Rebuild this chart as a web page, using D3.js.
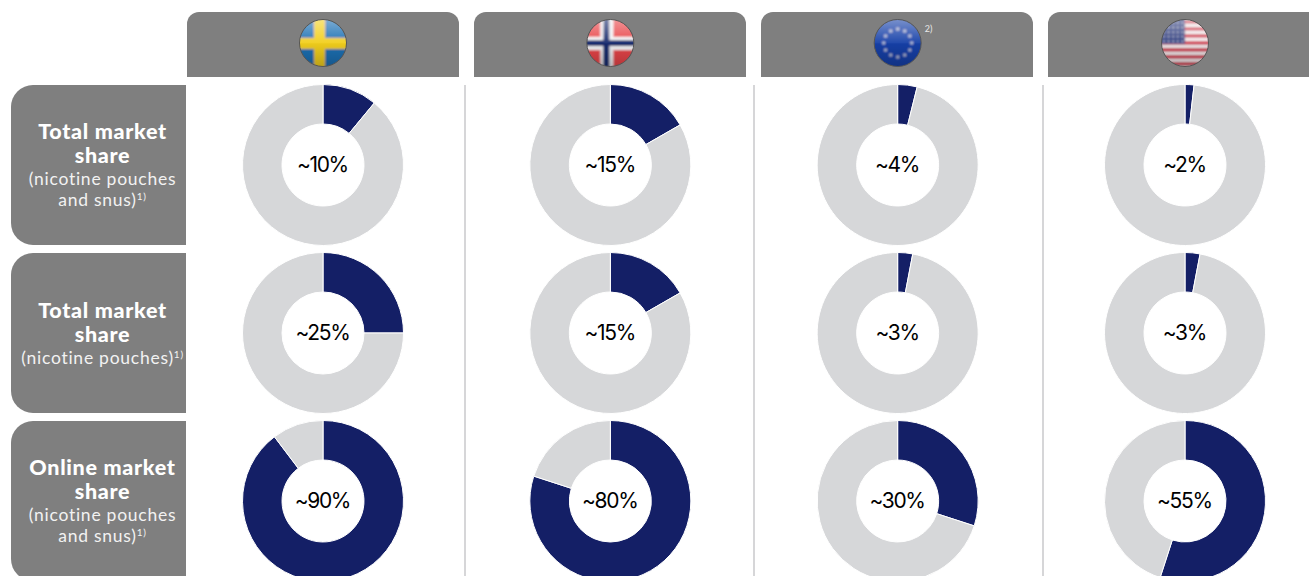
<!DOCTYPE html>
<html>
<head>
<meta charset="utf-8">
<script src="https://cdn.jsdelivr.net/npm/d3@7"></script>
<style>
  html, body { margin: 0; padding: 0; background: #fff; overflow: hidden; }
  text { font-family: Lato, sans-serif; }
  .title { font-weight: 900; font-size: 21.5px; fill: #fff; letter-spacing: .7px; }
  .sub { font-weight: 400; font-size: 17.5px; fill: #f2f2f2; letter-spacing: .75px; }
  .sup { font-size: 10px; }
  .value { font-family: Inter, sans-serif; font-size: 21px; fill: #000; letter-spacing: -1.35px; }
</style>
</head>
<body>
<div id="chart"></div>
<script>
const countries = ['Sweden', 'Norway', 'EU', 'USA'];
const metrics = ['totalAll', 'totalPouches', 'online'];

// share of the slice as drawn
const totalAllShare = [11, 16.7, 3.9, 1.8];
const totalPouchesShare = [25, 16.7, 3, 3];
const onlineShare = [89.7, 80, 30, 55];

const totalAllLabels = ['~10%', '~15%', '~4%', '~2%'];
const totalPouchesLabels = ['~25%', '~15%', '~3%', '~3%'];
const onlineLabels = ['~90%', '~80%', '~30%', '~55%'];

const rowTitles = [['Total market', 'share'], ['Total market', 'share'], ['Online market', 'share']];
const rowSubs = [['(nicotine pouches', 'and snus)'], ['(nicotine pouches)'], ['(nicotine pouches', 'and snus)']];

const shares = [totalAllShare, totalPouchesShare, onlineShare];
const labels = [totalAllLabels, totalPouchesLabels, onlineLabels];

const w = 1309, h = 576;
const NAVY = '#141f66', LIGHT = '#d6d7d9', PANEL = '#7f7f7f';

const svg = d3.select('#chart').append('svg')
  .attr('width', w).attr('height', h)
  .style('display', 'block');
const defs = svg.append('defs');

const x = d3.scalePoint().domain(countries).range([323, 1185]);
const y = d3.scalePoint().domain(metrics).range([165, 501]);
const headerX = d3.scalePoint().domain(countries).range([187, 1048]);
const sepX = d3.scalePoint().domain(countries.slice(1)).range([465, 1043]);
const pie = d3.pie().sort(null).value(function(d) { return d; });
const arc = d3.arc().innerRadius(41).outerRadius(80.5);

// header tabs, rounded on top only
countries.forEach(function(c) {
  const x0 = headerX(c), x1 = x0 + 272, r = 12;
  svg.append('path')
    .attr('d', `M${x0},77V${12 + r}A${r},${r} 0 0 1 ${x0 + r},12H${x1 - r}A${r},${r} 0 0 1 ${x1},${12 + r}V77Z`)
    .attr('fill', PANEL);
});

// column separators
svg.selectAll('.sep').data(countries.slice(1)).enter().append('line')
  .attr('class', 'sep')
  .attr('x1', function(c) { return sepX(c); })
  .attr('x2', function(c) { return sepX(c); })
  .attr('y1', 85).attr('y2', h)
  .attr('stroke', '#c8c9cb').attr('stroke-width', 1.5);

// row panels, rounded on the left only
metrics.forEach(function(m, i) {
  const y0 = y(m) - 80, y1 = y(m) + 80, r = 22;
  svg.append('path')
    .attr('d', `M186,${y0}H${11 + r}A${r},${r} 0 0 0 11,${y0 + r}V${y1 - r}A${r},${r} 0 0 0 ${11 + r},${y1}H186Z`)
    .attr('fill', PANEL);

  const g = svg.append('g').attr('text-anchor', 'middle');
  // the row with one sub line sits lower in its panel
  const top = y(m) - (rowSubs[i].length === 2 ? 26 : 15);
  rowTitles[i].forEach(function(t, j) {
    g.append('text').attr('class', 'title')
      .attr('x', 102.5).attr('y', top + j * 24).text(t);
  });
  rowSubs[i].forEach(function(t, j) {
    const last = j === rowSubs[i].length - 1;
    const line = g.append('text').attr('class', 'sub')
      .attr('x', 102.5).attr('y', top + 46 + j * 21).text(t);
    if (last) {
      line.append('tspan').attr('class', 'sup').attr('dy', -6).text('1)');
    }
  });
});

// donuts
metrics.forEach(function(m, i) {
  countries.forEach(function(c, j) {
    const g = svg.append('g').attr('transform', `translate(${x(c)},${y(m)})`);
    const v = shares[i][j];
    g.selectAll('path').data(pie([v, 100 - v])).enter().append('path')
      .attr('d', arc)
      .attr('fill', function(d, k) { return k === 0 ? NAVY : LIGHT; })
      .attr('stroke', '#fff').attr('stroke-width', 1);
    g.append('text').attr('class', 'value')
      .attr('text-anchor', 'middle').attr('x', -.6).attr('y', 7)
      .text(labels[i][j]);
  });
});

// flags
const gloss = defs.append('linearGradient').attr('id', 'gloss')
  .attr('x1', 0).attr('y1', 0).attr('x2', 0).attr('y2', 1);
gloss.append('stop').attr('offset', 0).attr('stop-color', '#fff').attr('stop-opacity', .42);
gloss.append('stop').attr('offset', .5).attr('stop-color', '#fff').attr('stop-opacity', .05);
gloss.append('stop').attr('offset', .52).attr('stop-color', '#000').attr('stop-opacity', .03);
gloss.append('stop').attr('offset', 1).attr('stop-color', '#000').attr('stop-opacity', .22);

defs.append('filter').attr('id', 'soft')
  .append('feGaussianBlur').attr('stdDeviation', .9);

const flagR = 23.5;
function bar(g, bx, by, bw, bh, fill) {
  g.append('rect').attr('x', bx).attr('y', by).attr('width', bw).attr('height', bh).attr('fill', fill);
}
const flagDraw = {
  Sweden: function(g) {
    bar(g, -26, -26, 52, 52, '#1f6fb4');
    bar(g, -9, -26, 11, 52, '#f2cf1d');
    bar(g, -26, -5, 52, 11, '#f2cf1d');
  },
  Norway: function(g) {
    bar(g, -26, -26, 52, 52, '#e8444a');
    bar(g, -10, -26, 13, 52, '#f4f4f6');
    bar(g, -26, -6, 52, 13, '#f4f4f6');
    bar(g, -7, -26, 6, 52, '#16296e');
    bar(g, -26, -3, 52, 6, '#16296e');
  },
  EU: function(g) {
    bar(g, -26, -26, 52, 52, '#1440a8');
    d3.range(12).forEach(function(k) {
      const a = k * Math.PI / 6;
      g.append('circle').attr('cx', 14 * Math.sin(a)).attr('cy', -14 * Math.cos(a))
        .attr('r', 1.5).attr('fill', '#c4cde0');
    });
  },
  USA: function(g) {
    bar(g, -26, -26, 52, 52, '#f3eef0');
    d3.range(7).forEach(function(k) {
      bar(g, -26, -23 + k * 7, 52, 3.6, '#cf3a50');
    });
    bar(g, -26, -26, 26, 27, '#2c3a7e');
    d3.range(5).forEach(function(a) {
      d3.range(5).forEach(function(b) {
        g.append('circle').attr('cx', -21 + a * 4.6).attr('cy', -20 + b * 4.6)
          .attr('r', .8).attr('fill', '#d8dcea');
      });
    });
  }
};

countries.forEach(function(c) {
  const id = 'clip-' + c;
  defs.append('clipPath').attr('id', id).append('circle').attr('r', flagR);
  const g = svg.append('g').attr('transform', `translate(${x(c)},43)`);
  const inner = g.append('g').attr('clip-path', `url(#${id})`).append('g').attr('filter', 'url(#soft)');
  flagDraw[c](inner);
  g.append('circle').attr('r', flagR).attr('fill', 'url(#gloss)')
    .attr('stroke', '#555').attr('stroke-width', 1);
});

svg.append('text')
  .attr('x', x('EU') + 27).attr('y', 32)
  .attr('font-size', 9).attr('fill', '#e8e8e8').text('2)');
</script>
</body>
</html>
